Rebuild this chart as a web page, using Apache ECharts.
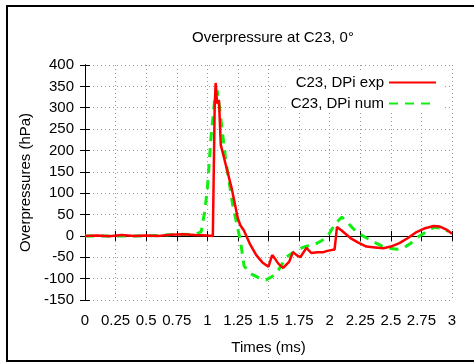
<!DOCTYPE html>
<html>
<head>
<meta charset="utf-8">
<script src="https://cdn.jsdelivr.net/npm/echarts@6/dist/echarts.min.js"></script>
<style>
html,body{margin:0;padding:0;background:#fff;}
#c{width:474px;height:362px;}
</style>
</head>
<body>
<div id="c"></div>
<script>
var titleText = 'Overpressure at C23, 0°';
var xName = 'Times (ms)';
var yName = 'Overpressures (hPa)';
var expName = 'C23, DPi exp';
var numName = 'C23, DPi num';

var expTime = [0, 0.1, 0.2, 0.3, 0.4, 0.5, 0.6, 0.7, 0.8, 0.9, 1.0, 1.045, 1.06, 1.068, 1.08, 1.095, 1.11, 1.15, 1.2, 1.25, 1.27, 1.285, 1.3, 1.35, 1.4, 1.45, 1.5, 1.53, 1.55, 1.58, 1.62, 1.67, 1.70, 1.73, 1.76, 1.81, 1.85, 1.9, 1.95, 1.98, 2.04, 2.06, 2.1, 2.17, 2.23, 2.3, 2.37, 2.44, 2.5, 2.57, 2.64, 2.71, 2.78, 2.85, 2.9, 2.96, 3.0];
var expVal  = [0, 1, -1, 2, 0, 1, 0, 3, 4, 2, 1, 0, 300, 358, 310, 318, 213, 167, 110, 40, 25, 28, 12, -20, -45, -62, -72, -45, -52, -65, -75, -60, -38, -45, -50, -28, -40, -38, -38, -35, -32, 21, 12, -5, -15, -25, -27, -29, -25, -17, -5, 9, 18, 23, 22, 14, 5];

var numTime = [0, 0.5, 0.6, 0.75, 0.9, 0.95, 0.98, 1.0, 1.03, 1.06, 1.08, 1.1, 1.15, 1.21, 1.27, 1.3, 1.35, 1.43, 1.48, 1.53, 1.58, 1.65, 1.73, 1.8, 1.87, 1.93, 1.98, 2.05, 2.1, 2.15, 2.22, 2.29, 2.36, 2.43, 2.49, 2.55, 2.6, 2.66, 2.71, 2.78, 2.85, 2.93, 2.97];
var numVal  = [0, 0, 1, 4, 3, 10, 60, 110, 230, 320, 341, 300, 178, 68, -10, -70, -88, -99, -103, -95, -80, -49, -33, -25, -21, -12, -2, 30, 44, 30, 9, -3, -14, -24, -29, -31, -29, -18, -5, 8, 20, 18, 10];

function pairs(t, v){ return t.map(function(x,i){ return [x, v[i]]; }); }

var FONT = 'Liberation Sans, Arial, sans-serif';
var FS = 15;
var grid = {left:85, right:22, top:65, bottom:62};
var gridLine = {show:true, lineStyle:{color:'#999', type:[1,3], width:1}};
var axisLineStyle = {show:true, lineStyle:{color:'#000', width:1}};
var tickStyle = {show:true, inside:true, length:5, lineStyle:{color:'#000'}};

var chart = echarts.init(document.getElementById('c'), null, {renderer:'canvas'});
chart.setOption({
  animation:false,
  backgroundColor:'#fff',
  title:{text:titleText, left:268, top:25, textAlign:'center',
    textStyle:{fontFamily:FONT, fontSize:FS, fontWeight:'normal', color:'#000'}},
  graphic:[{type:'rect', shape:{x:7, y:6, width:480, height:355}, style:{fill:null, stroke:'#000', lineWidth:2}, silent:true}],
  legend:{right:32, top:73, orient:'vertical', align:'right', itemWidth:47, itemHeight:12, itemGap:6,
    backgroundColor:'#fff', padding:[2,5,2,5],
    itemStyle:{opacity:0},
    textStyle:{fontFamily:FONT, fontSize:FS, color:'#000'},
    data:[expName, numName]},
  grid:grid,
  xAxis:[{type:'value', min:0, max:3, interval:0.25, position:'bottom',
    name:xName, nameLocation:'middle', nameGap:40,
    nameTextStyle:{fontFamily:FONT, fontSize:FS, color:'#000'},
    axisLine:axisLineStyle, axisTick:tickStyle, splitLine:gridLine,
    axisLabel:{fontFamily:FONT, fontSize:FS, color:'#000', margin:13,
      formatter:function(v){ return String(v); }}},
    {type:'value', min:0, max:3, interval:0.25, position:'top',
    axisLine:axisLineStyle, axisTick:tickStyle, splitLine:{show:false}, axisLabel:{show:false}}],
  yAxis:[{type:'value', min:-150, max:400, interval:50, position:'left',
    name:yName, nameLocation:'middle', nameGap:52,
    nameTextStyle:{fontFamily:FONT, fontSize:FS, color:'#000'},
    axisLine:axisLineStyle, axisTick:tickStyle, splitLine:gridLine,
    axisLabel:{fontFamily:FONT, fontSize:FS, color:'#000', margin:11}},
    {type:'value', min:-150, max:400, interval:50, position:'right',
    axisLine:axisLineStyle, axisTick:tickStyle, splitLine:{show:false}, axisLabel:{show:false}}],
  series:[
    {name:expName, type:'line', data:pairs(expTime, expVal), showSymbol:false, symbol:'none',
      lineStyle:{color:'#ff0000', width:2.5}, itemStyle:{color:'#ff0000'}, z:3},
    {name:numName, type:'line', data:pairs(numTime, numVal), showSymbol:false, symbol:'none',
      lineStyle:{color:'#11ee11', width:3, type:[9,7]}, itemStyle:{color:'#11ee11'}, z:2}
  ]
});
</script>
</body>
</html>
